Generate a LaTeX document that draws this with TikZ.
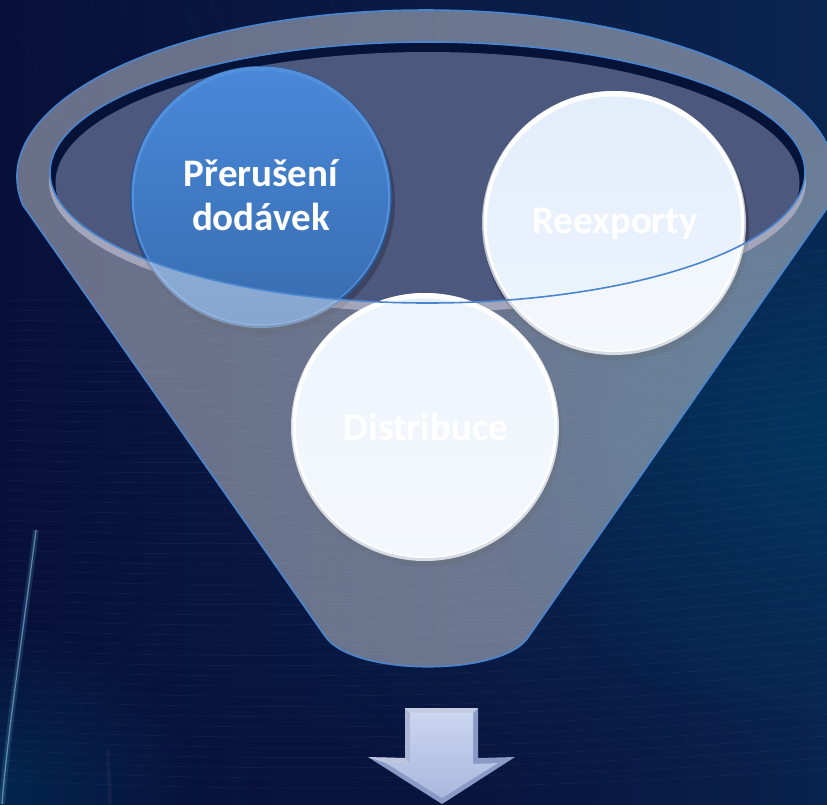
\documentclass[tikz,border=0pt]{standalone}
\usepackage{fontspec}
\setmainfont{Carlito}
\usetikzlibrary{fadings}
\tikzfading[name=glowfade, inner color=transparent!0, outer color=transparent!100]
\definecolor{bgbase}{HTML}{0A1642}
\definecolor{bgleft}{HTML}{071039}
\definecolor{bgright}{HTML}{0A2450}
\definecolor{glowteal}{HTML}{003A62}
\definecolor{rimblue}{HTML}{4A86D0}
\definecolor{interior}{HTML}{4D587E}
\definecolor{crescent}{HTML}{061338}
\definecolor{bandgray}{HTML}{666C8E}
\definecolor{wedge}{HTML}{BFC6D3}
\definecolor{wtop}{HTML}{E3EEFB}
\definecolor{wbot}{HTML}{EDF4FD}
\definecolor{bedge}{HTML}{2A5590}
\definecolor{bhi}{HTML}{5290DC}
\definecolor{btop}{HTML}{4888D8}
\definecolor{bbot}{HTML}{396CB0}
\definecolor{arredge}{HTML}{8A9AC6}
\definecolor{arrtop}{HTML}{CAD5F0}
\definecolor{arrbot}{HTML}{A9B8DD}
\begin{document}
\begin{tikzpicture}[x=1pt,y=1pt,
  lbl/.style={text=white, font=\fontsize{39}{44}\selectfont\bfseries, align=center, inner sep=0pt},
  rimline/.style={draw=rimblue, line width=1.6pt},
  streak/.style={white, opacity=0.045, line width=0.7pt}]
\useasboundingbox (0,0) rectangle (827,-804);
\clip (0,0) rectangle (827,-804);
% background
\shade[left color=bgleft, right color=bgright] (0,0) rectangle (827,-804);
\fill[glowteal, path fading=glowfade, opacity=0.8] (827,-430) ellipse [x radius=360, y radius=300];
\fill[bgleft, path fading=glowfade, opacity=0.6] (430,-790) ellipse [x radius=420, y radius=150];
\fill[glowteal!70!bgbase, path fading=glowfade, opacity=0.7] (0,-790) ellipse [x radius=200, y radius=170];
\foreach \i in {0,...,48} {
  \draw[streak] (0,-300-\i*10) .. controls (280,-305-\i*10.2) and (560,-290-\i*10.4) .. (827,-250-\i*10.8);
}
\foreach \i in {0,...,14} {
  \draw[streak, opacity=0.03] (\i*30,0) -- (\i*30+160,-300);
}
% cyan streak bottom-left
\draw[cyan!50!white, opacity=0.15, line width=6pt] (36,-530) .. controls (22,-640) and (8,-730) .. (2,-804);
\draw[cyan!40!white, opacity=0.5, line width=1.3pt] (36,-530) .. controls (22,-640) and (8,-730) .. (2,-804);
\draw[violet!60!white, opacity=0.08, line width=4pt] (108,-750) -- (110,-804);
% stage A: band and interior
\fill[bandgray] (427.5,-181) ellipse [x radius=378.5, y radius=131];
\begin{scope}
  \clip (427.5,-172.5) ellipse [x radius=377.5, y radius=130.5];
  \fill[crescent] (427.5,-172.5) ellipse [x radius=378, y radius=131];
  \fill[interior] (427.5,-183) ellipse [x radius=372, y radius=131];
\end{scope}
% circle shadows
\fill[black, opacity=0.22] (263,-202) circle (132);
\fill[black, opacity=0.22] (616,-228) circle (133);
\fill[black, opacity=0.22] (427,-432) circle (135);
% blue circle
\fill[bedge] (261,-197) circle (131);
\fill[bhi] (261,-196) circle (129.5);
\shade[top color=btop, bottom color=bbot] (261,-197.5) circle (127);
% white circles
\fill[wedge] (614,-223) circle (132);
\fill[white] (614,-221.5) circle (130.5);
\shade[top color=wtop, bottom color=wbot] (614,-223.5) circle (127);
\fill[wedge] (425,-427) circle (134);
\fill[white] (425,-425.5) circle (132.5);
\shade[top color=wtop, bottom color=wbot] (425,-427.5) circle (129);
% labels
\node[lbl] (t1) at (261,-195) {Přerušení\\dodávek};
\node[lbl, anchor=base] (t2) at (615,-233) {Reexporty};
\node[lbl, anchor=base] (t3) at (426,-440) {Distribuce};
% stage C: translucent front wall
\fill[white, opacity=0.4, even odd rule]
  (22.8,-205) arc[start angle=189.65, end angle=-9.65, x radius=409, y radius=167]
  -- (529,-636) .. controls (505,-677) and (352,-677) .. (325,-636) -- cycle
  (427.5,-172.5) ellipse [x radius=377.5, y radius=130.5];
% outlines
\draw[rimline, line join=round]
  (22.8,-205) arc[start angle=189.65, end angle=-9.65, x radius=409, y radius=167]
  -- (529,-636) .. controls (505,-677) and (352,-677) .. (325,-636) -- cycle;
\draw[rimline] (427.5,-172.5) ellipse [x radius=377.5, y radius=130.5];
% arrow
\fill[arredge] (405,-708) -- (478,-708) -- (478,-758) -- (515,-757) -- (442,-804) -- (368,-757) -- (405,-758) -- cycle;
\shade[top color=arrtop, bottom color=arrbot] (410,-713) -- (473,-713) -- (473,-764) -- (498,-763) -- (442,-798) -- (386,-763) -- (410,-764) -- cycle;
\fill[white, opacity=0.5] (405,-708) -- (478,-708) -- (473,-713) -- (410,-713) -- cycle;
\fill[white, opacity=0.45] (368,-757) -- (405,-758) -- (410,-764) -- (386,-763) -- cycle;
\fill[white, opacity=0.3] (405,-708) -- (410,-713) -- (410,-764) -- (405,-758) -- cycle;
\end{tikzpicture}
\end{document}
